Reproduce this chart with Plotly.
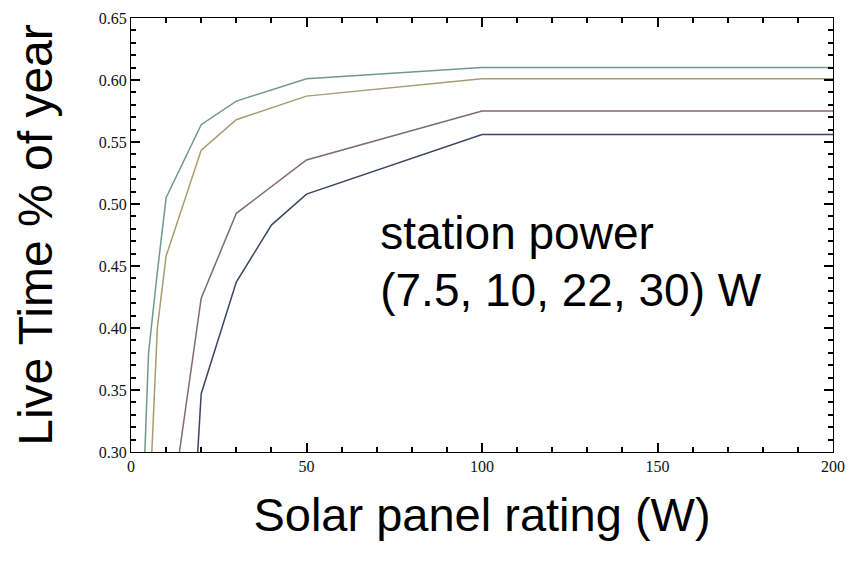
import plotly.graph_objects as go

# Solar panel rating (W) and live-time fraction for each station power
x_75 = [0, 5, 7.5, 10, 20, 30, 50, 100, 200]
y_75 = [0.0, 0.38, 0.445, 0.505, 0.564, 0.583, 0.601, 0.610, 0.610]

x_10 = [0, 5, 7.5, 10, 20, 30, 50, 100, 200]
y_10 = [0.0, 0.24, 0.40, 0.458, 0.5435, 0.568, 0.587, 0.601, 0.601]

x_22 = [10, 20, 30, 50, 100, 200]
y_22 = [0.224, 0.424, 0.4925, 0.5355, 0.575, 0.575]

x_30 = [15, 20, 30, 40, 50, 100, 200]
y_30 = [0.11, 0.347, 0.437, 0.483, 0.508, 0.556, 0.556]

label_lines = ["station power", "(7.5, 10, 22, 30) W"]
label_x = [71, 71]
label_y = [0.4726, 0.4274]

series = [
    (x_75, y_75, "#6f9a8a"),
    (x_10, y_10, "#a89a70"),
    (x_22, y_22, "#806878"),
    (x_30, y_30, "#3c4660"),
]

fig = go.Figure()
for xs, ys, col in series:
    fig.add_trace(go.Scatter(x=xs, y=ys, mode="lines",
                             line=dict(color=col, width=1.5), showlegend=False))

fig.add_trace(go.Scatter(x=label_x, y=label_y, mode="text", text=label_lines,
                         textposition="middle right", showlegend=False, hoverinfo="skip",
                         textfont=dict(family="Liberation Sans, Arial", size=46, color="black")))

tickfont = dict(family="Liberation Serif", size=16, color="#111")
fig.update_xaxes(range=[0, 200], dtick=50, tick0=0,
                 ticks="inside", ticklen=9, tickwidth=2, tickcolor="black",
                 showline=True, linecolor="black", mirror="ticks", tickfont=tickfont,
                 automargin=False,
                 title=dict(text="Solar panel rating (W)", standoff=23,
                            font=dict(family="Liberation Sans, Arial", size=47, color="black")),
                 minor=dict(ticks="inside", ticklen=5, tickwidth=1.5, tickcolor="black", dtick=10))
fig.update_yaxes(range=[0.30, 0.65], dtick=0.05, tick0=0.30, tickformat=".2f",
                 ticks="inside", ticklen=9, tickwidth=2, tickcolor="black",
                 showline=True, linecolor="black", mirror="ticks", tickfont=tickfont,
                 automargin=False,
                 title=dict(text="Live Time % of year", standoff=30,
                            font=dict(family="Liberation Sans, Arial", size=48, color="black")),
                 minor=dict(ticks="inside", ticklen=5, tickwidth=1.5, tickcolor="black", dtick=0.01))

fig.update_layout(width=850, height=567, margin=dict(l=131, r=17, t=18, b=115),
                  plot_bgcolor="white", paper_bgcolor="white")
fig.write_html("out.html")
